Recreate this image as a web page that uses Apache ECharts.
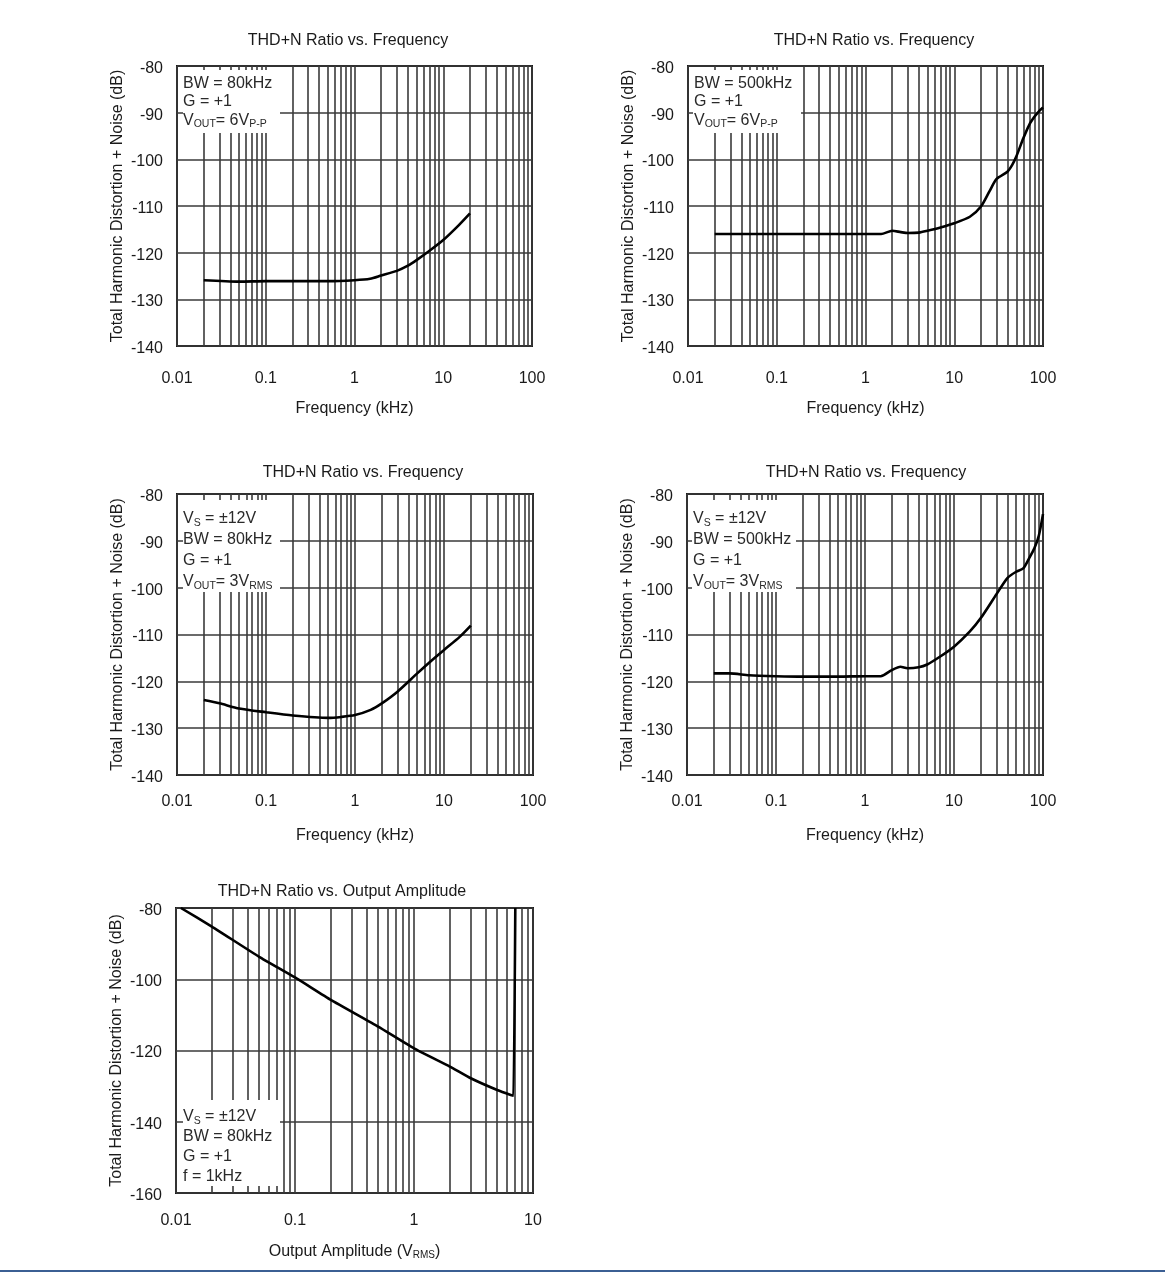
<!DOCTYPE html>
<html>
<head>
<meta charset="utf-8">
<script src="https://cdn.jsdelivr.net/npm/echarts@6/dist/echarts.min.js"></script>
<style>
  html, body { margin: 0; padding: 0; background: #fff; }
  #chart { width: 1165px; height: 1273px; }
</style>
</head>
<body>
<div id="chart"></div>
<script>
// ---- Data ----
const freq1 = [0.02, 0.05, 0.1, 0.2, 0.5, 1, 1.5, 2, 3, 4, 5, 7, 10, 15, 20];
const thd1  = [-125.9, -126.2, -126.1, -126.1, -126.1, -125.9, -125.6, -124.9, -123.9, -122.8, -121.6, -119.6, -117.3, -114.1, -111.6];

const freq2 = [0.02, 0.05, 0.1, 0.2, 0.5, 1, 1.5, 2, 2.5, 3, 4, 5, 7, 10, 15, 20, 25, 30, 40, 45, 50, 60, 70, 80, 90, 100];
const thd2  = [-116.0, -116.0, -116.0, -116.0, -116.0, -116.0, -116.0, -115.3, -115.6, -115.8, -115.7, -115.3, -114.6, -113.7, -112.3, -110.1, -106.8, -104.2, -102.6, -101.2, -99.4, -95.5, -92.6, -90.9, -89.7, -88.9];

const freq3 = [0.02, 0.03, 0.05, 0.1, 0.2, 0.5, 0.7, 1, 1.5, 2, 3, 5, 7, 10, 15, 20];
const thd3  = [-124.0, -124.7, -125.8, -126.6, -127.3, -127.8, -127.6, -127.2, -126.1, -124.7, -122.2, -118.3, -115.8, -113.3, -110.5, -108.1];

const freq4 = [0.02, 0.03, 0.05, 0.1, 0.2, 0.5, 1, 1.5, 2, 2.5, 3, 4, 5, 7, 10, 15, 20, 30, 40, 50, 60, 70, 80, 90, 100];
const thd4  = [-118.3, -118.3, -118.7, -118.9, -119.0, -119.0, -118.9, -118.9, -117.6, -116.9, -117.2, -117.0, -116.4, -114.7, -112.6, -109.4, -106.5, -101.4, -97.9, -96.6, -95.9, -93.7, -91.6, -88.8, -84.3];

const ampl5 = [0.011, 0.02, 0.05, 0.1, 0.2, 0.5, 1, 2, 3, 5, 6.5, 6.85, 7.1];
const thd5  = [-80, -85.2, -93.7, -99.5, -105.8, -113.3, -119.4, -124.5, -127.8, -131.1, -132.5, -132.7, -80];

const titles = ['THD+N Ratio vs. Frequency', 'THD+N Ratio vs. Frequency', 'THD+N Ratio vs. Frequency', 'THD+N Ratio vs. Frequency', 'THD+N Ratio vs. Output Amplitude'];
const yName = 'Total Harmonic Distortion + Noise (dB)';
const xNames = ['Frequency (kHz)', 'Frequency (kHz)', 'Frequency (kHz)', 'Frequency (kHz)', 'Output Amplitude (V{s|RMS})'];
const notes = [
  '{n|BW = 80kHz}\n{n|G = +1}\n{n|V}{s|OUT}{n|= 6V}{s|P-P}',
  '{n|BW = 500kHz}\n{n|G = +1}\n{n|V}{s|OUT}{n|= 6V}{s|P-P}',
  '{n|V}{s|S}{n| = ±12V}\n{n|BW = 80kHz}\n{n|G = +1}\n{n|V}{s|OUT}{n|= 3V}{s|RMS}',
  '{n|V}{s|S}{n| = ±12V}\n{n|BW = 500kHz}\n{n|G = +1}\n{n|V}{s|OUT}{n|= 3V}{s|RMS}',
  '{n|V}{s|S}{n| = ±12V}\n{n|BW = 80kHz}\n{n|G = +1}\n{n|f = 1kHz}'
];

// ---- Layout ----
const FONT = '"Liberation Sans", Arial, Helvetica, sans-serif';
const grids = [
  { left: 177, top: 66, width: 355, height: 280 },
  { left: 688, top: 66, width: 355, height: 280 },
  { left: 177, top: 494, width: 356, height: 281 },
  { left: 687, top: 494, width: 356, height: 281 },
  { left: 176, top: 908, width: 357, height: 285 }
];
const titlePos = [[348, 33], [874, 33], [363, 465], [866, 465], [342, 884]];
const xLabelMargin = [25, 25, 19, 19, 20];
const xNameGap = [55, 55, 53, 53, 51];
const xRanges = [[0.01, 100], [0.01, 100], [0.01, 100], [0.01, 100], [0.01, 10]];
const yRanges = [[-140, -80, 10], [-140, -80, 10], [-140, -80, 10], [-140, -80, 10], [-160, -80, 20]];
const boxes = [
  { x: 183, y: 70, w: 97, h: 63, tx: 183, ty: 74, lh: 18.5 },
  { x: 693, y: 70, w: 108, h: 63, tx: 694, ty: 74, lh: 18.5 },
  { x: 183, y: 500, w: 97, h: 92, tx: 183, ty: 508, lh: 21 },
  { x: 692, y: 500, w: 104, h: 92, tx: 693, ty: 508, lh: 21 },
  { x: 183, y: 1100, w: 97, h: 86, tx: 183, ty: 1107, lh: 20 }
];
const seriesData = [[freq1, thd1], [freq2, thd2], [freq3, thd3], [freq4, thd4], [ampl5, thd5]];

const gridLineStyle = { color: '#3a3a3a', width: 1.6 };
const textColor = '#1a1a1a';

const option = {
  animation: false,
  backgroundColor: '#ffffff',
  textStyle: { fontFamily: FONT },
  title: titles.map((t, i) => ({
    text: t, left: titlePos[i][0], top: titlePos[i][1], textAlign: 'center', padding: 0,
    textStyle: { fontSize: 16, fontWeight: 'normal', color: textColor, fontFamily: FONT }
  })),
  grid: grids.map(g => Object.assign({ show: true, borderColor: '#1a1a1a', borderWidth: 2, backgroundColor: 'transparent' }, g)),
  xAxis: grids.map((g, i) => ({
    gridIndex: i, type: 'log', logBase: 10, min: xRanges[i][0], max: xRanges[i][1],
    name: xNames[i], nameLocation: 'middle', nameGap: xNameGap[i],
    nameTextStyle: { fontSize: 16, color: textColor, fontFamily: FONT, rich: { s: { fontSize: 10, verticalAlign: 'bottom', lineHeight: 12, color: textColor } } },
    axisLine: { show: false }, axisTick: { show: false },
    axisLabel: { fontSize: 16, color: textColor, margin: xLabelMargin[i], fontFamily: FONT,
      formatter: v => v >= 1 ? String(Math.round(v)) : String(+v.toPrecision(2)) },
    splitLine: { show: true, lineStyle: gridLineStyle },
    minorTick: { show: false, splitNumber: 9 },
    minorSplitLine: { show: true, lineStyle: gridLineStyle }
  })),
  yAxis: grids.map((g, i) => ({
    gridIndex: i, type: 'value', min: yRanges[i][0], max: yRanges[i][1], interval: yRanges[i][2],
    name: yName, nameLocation: 'middle', nameGap: 51,
    nameTextStyle: { fontSize: 16, color: textColor, fontFamily: FONT },
    axisLine: { show: false }, axisTick: { show: false },
    axisLabel: { fontSize: 16, color: textColor, margin: 14, fontFamily: FONT,
      formatter: v => '{a|' + v + '}',
      rich: { a: { fontSize: 16, color: textColor, fontFamily: FONT, padding: [5, 0, 0, 0] } } },
    splitLine: { show: true, lineStyle: gridLineStyle }
  })),
  series: seriesData.map((d, i) => ({
    type: 'line', xAxisIndex: i, yAxisIndex: i,
    data: d[0].map((x, k) => [x, d[1][k]]),
    showSymbol: false, symbol: 'none', smooth: i === 4 ? 0.15 : 0.25,
    lineStyle: { color: '#000', width: 2.6 },
    z: 5
  })),
  graphic: [].concat(
    boxes.map(b => ({
      type: 'rect', z: 100, silent: true,
      shape: { x: b.x, y: b.y, width: b.w, height: b.h },
      style: { fill: '#ffffff' }
    })),
    boxes.map((b, i) => ({
      type: 'text', z: 101, silent: true, x: b.tx, y: b.ty,
      style: {
        text: notes[i],
        fill: '#2a2a2a',
        font: '16px ' + FONT,
        rich: {
          n: { fontSize: 16, lineHeight: b.lh, fill: '#2a2a2a', fontFamily: FONT },
          s: { fontSize: 10.5, lineHeight: 11, verticalAlign: 'bottom', fill: '#2a2a2a', fontFamily: FONT }
        }
      }
    })),
    [{
      type: 'rect', z: 100, silent: true,
      shape: { x: 0, y: 1270, width: 1165, height: 2 },
      style: { fill: '#3b5f93' }
    }]
  )
};

const chart = echarts.init(document.getElementById('chart'), null, { renderer: 'canvas' });
chart.setOption(option);
</script>
</body>
</html>
